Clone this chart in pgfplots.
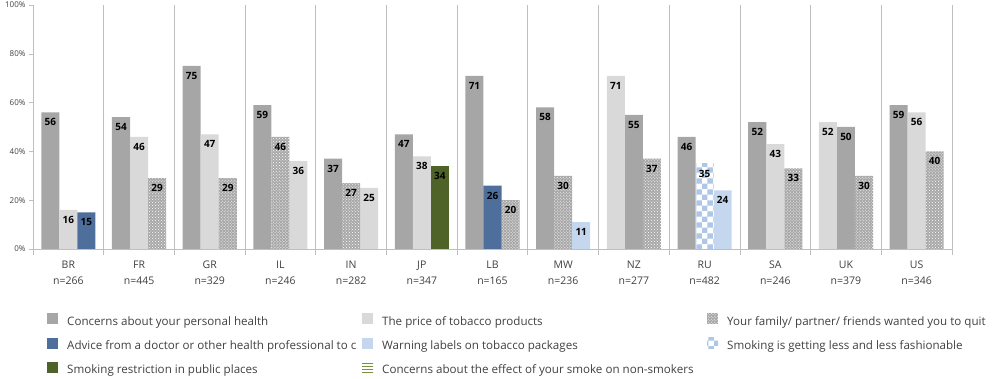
\documentclass[border=0pt]{standalone}
\usepackage{fontspec}
\setmainfont{Open Sans}
\usepackage{pgfplots}
\pgfplotsset{compat=1.18}
\usetikzlibrary{patterns}
\definecolor{health}{HTML}{A6A6A6}
\definecolor{price}{HTML}{D9D9D9}
\definecolor{family}{HTML}{A8A8A8}
\definecolor{advice}{HTML}{4E6E9C}
\definecolor{warning}{HTML}{C5D7EE}
\definecolor{fashion}{HTML}{AFC7E6}
\definecolor{restrict}{HTML}{4F6228}
\definecolor{smoke}{HTML}{76923C}
\definecolor{gridc}{HTML}{BFBFBF}
\definecolor{txt}{HTML}{404040}
\newcommand{\fs}[2]{\fontsize{#1bp}{#2bp}\selectfont}
\begin{document}
\begin{tikzpicture}
\useasboundingbox (0,0) rectangle (1000bp,379bp);
\begin{axis}[
  at={(33bp,130bp)}, anchor=south west, scale only axis,
  width=919bp, height=244bp,
  xmin=-0.5, xmax=12.5, ymin=0, ymax=100,
  axis x line*=bottom, axis y line*=left,
  axis line style={gridc},
  ybar, bar width=0.255, bar shift=0pt,
  /pgf/number format/assume math mode=true,
  xtick={0,...,12},
  xticklabels={{BR\\n=266},{FR\\n=445},{GR\\n=329},{IL\\n=246},{IN\\n=282},{JP\\n=347},{LB\\n=165},{MW\\n=236},{NZ\\n=277},{RU\\n=482},{SA\\n=246},{UK\\n=379},{US\\n=346}},
  xticklabel style={align=center, font=\fs{10.5}{16}, text=txt, yshift=-4bp},
  minor xtick={-0.5,0.5,...,12.5},
  xminorgrids=true,
  minor grid style={gridc, line width=0.8bp},
  tick align=outside,
  major x tick style={draw=none},
  minor x tick style={gridc, line width=0.8bp},
  minor tick length=6bp,
  major tick length=4bp,
  ytick={0,20,40,60,80,100},
  yticklabels={0\%,20\%,40\%,60\%,80\%,100\%},
  yticklabel style={font=\fs{8}{9}, text=txt},
  major y tick style={gridc},
  nodes near coords,
  every node near coord/.append style={font=\bfseries\fs{10}{11}, text=black, anchor=north, yshift=-5bp, inner sep=1bp},
  legend columns=3,
  legend cell align=left,
  legend style={at={(0.012,-0.255)}, anchor=north west, draw=none, fill=none,
    font=\fs{11.6}{12}, text=txt, nodes={inner sep=0pt},
    /tikz/every odd column/.style={column sep=9bp},
    /tikz/row sep=11bp},
  legend image code/.code={\fill[#1] (0bp,-3bp) rectangle (11bp,8bp);},
]
\addplot[draw=none, fill=health] coordinates {(-0.255,56) (0.745,54) (1.745,75) (2.745,59) (3.745,37) (4.745,47) (5.745,71) (6.745,58) (8,55) (8.745,46) (9.745,52) (11,50) (11.745,59)};
\addlegendentry{\makebox[295bp][l]{Concerns about your personal health}}
\addplot[draw=none, fill=price] coordinates {(0,16) (1,46) (2,47) (3.255,36) (4.255,25) (5,38) (7.745,71) (10,43) (10.745,52) (12,56)};
\addlegendentry{\makebox[325bp][l]{The price of tobacco products}}
\addplot[draw=none, fill=family, postaction={pattern=crosshatch dots, pattern color=white}] coordinates {(1.255,29) (2.255,29) (3,46) (4,27) (6.255,20) (7,30) (8.255,37) (10.255,33) (11.255,30) (12.255,40)};
\addlegendentry{Your family/ partner/ friends wanted you to quit}
\addplot[draw=none, fill=advice] coordinates {(0.255,15) (6,26)};
\addlegendentry{\makebox[295bp][l]{Advice from a doctor or other health professional to c}}
\addplot[draw=none, fill=warning] coordinates {(7.255,11) (9.255,24)};
\addlegendentry{\makebox[325bp][l]{Warning labels on tobacco packages}}
\addplot[draw=none, fill=white, postaction={pattern=checkerboard, pattern color=fashion}] coordinates {(9,35)};
\addlegendentry{Smoking is getting less and less fashionable}
\addplot[draw=none, fill=restrict] coordinates {(5.255,34)};
\addlegendentry{\makebox[295bp][l]{Smoking restriction in public places}}
\addlegendimage{draw=none, fill=white, postaction={pattern=horizontal lines, pattern color=smoke}}
\addlegendentry{\makebox[325bp][l]{Concerns about the effect of your smoke on non-smokers}}
\end{axis}
\end{tikzpicture}
\end{document}
